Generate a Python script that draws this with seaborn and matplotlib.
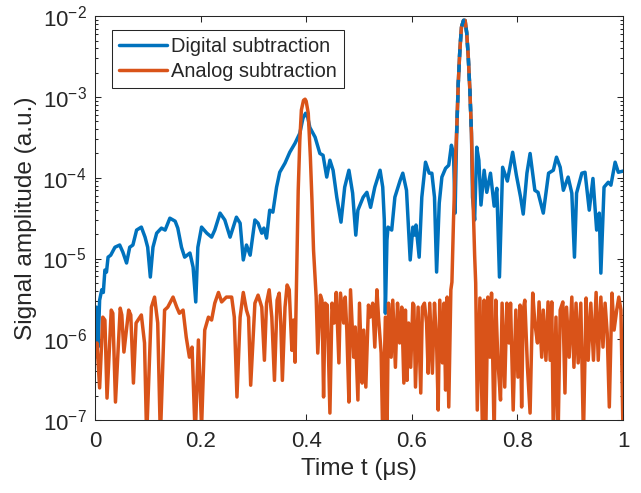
import numpy as np
import pandas as pd
import matplotlib
matplotlib.use("Agg")
import matplotlib.pyplot as plt
import seaborn as sns
from matplotlib.ticker import LogLocator, NullLocator, FixedLocator, FixedFormatter

# Values (time in us, amplitude in a.u.)
time_digital = [
    0.000, 0.003, 0.006, 0.009, 0.013, 0.016, 0.019, 0.022, 0.025, 0.030,
    0.038, 0.047, 0.053, 0.060, 0.066, 0.072, 0.079, 0.088, 0.095, 0.100,
    0.105, 0.110, 0.117, 0.126, 0.133, 0.142, 0.152, 0.157, 0.164, 0.170,
    0.180, 0.186, 0.191, 0.195, 0.202, 0.212, 0.221, 0.227, 0.237, 0.246,
    0.256, 0.268, 0.275, 0.281, 0.287, 0.294, 0.303, 0.309, 0.316, 0.320,
    0.325, 0.331, 0.337, 0.344, 0.350, 0.360, 0.369, 0.379, 0.388, 0.394,
    0.399, 0.403, 0.407, 0.417, 0.426, 0.432, 0.439, 0.445, 0.451, 0.458,
    0.466, 0.473, 0.481, 0.488, 0.494, 0.498, 0.508, 0.515, 0.522, 0.530,
    0.540, 0.545, 0.548, 0.550, 0.553, 0.555, 0.562, 0.568, 0.578, 0.583,
    0.590, 0.597, 0.602, 0.605, 0.608, 0.614, 0.619, 0.626, 0.633, 0.638,
    0.643, 0.647, 0.652, 0.657, 0.664, 0.670, 0.675, 0.679, 0.682, 0.685,
    0.688, 0.691, 0.694, 0.698, 0.701, 0.704, 0.707, 0.710, 0.713, 0.715,
    0.719, 0.723, 0.727, 0.731, 0.737, 0.742, 0.749, 0.756, 0.761, 0.766,
    0.772, 0.781, 0.791, 0.798, 0.806, 0.811, 0.818, 0.824, 0.833, 0.839,
    0.849, 0.859, 0.868, 0.874, 0.881, 0.887, 0.896, 0.903, 0.908, 0.912,
    0.922, 0.928, 0.936, 0.943, 0.950, 0.955, 0.958, 0.964, 0.972, 0.977,
    0.985, 0.991, 1.000,
]
digital = [
    7.3e-7, 2.5e-6, 8.0e-7, 3.05e-6, 4.1e-6, 3.8e-6, 7.2e-6, 6.8e-6, 1.04e-5, 1.1e-5,
    1.38e-5, 1.47e-5, 1.2e-5, 8.8e-6, 1.38e-5, 1.47e-5, 2.25e-5, 2.45e-5, 1.84e-5, 1.38e-5,
    5.9e-6, 1.38e-5, 2.06e-5, 2.38e-5, 2.25e-5, 3.16e-5, 2.9e-5, 2.38e-5, 1.38e-5, 1.04e-5,
    1.17e-5, 7.8e-6, 2.9e-6, 1.38e-5, 2.45e-5, 2.06e-5, 1.84e-5, 2.25e-5, 3.65e-5, 3.0e-5,
    1.84e-5, 3.25e-5, 2.74e-5, 9.6e-6, 1.47e-5, 1.1e-5, 3.0e-5, 2.74e-5, 2.06e-5, 2.38e-5,
    1.79e-5, 3.97e-5, 3.75e-5, 7.65e-5, 1.17e-4, 1.52e-4, 2.07e-4, 2.68e-4, 3.56e-4, 5.47e-4,
    6.3e-4, 5.6e-4, 4.2e-4, 3.18e-4, 2.0e-4, 1.9e-4, 1.02e-4, 1.65e-4, 1.24e-4, 5.75e-5,
    2.82e-5, 7.65e-5, 1.24e-4, 6.45e-5, 1.95e-5, 3.97e-5, 5.75e-5, 6.6e-5, 4.3e-5, 7.65e-5,
    1.24e-4, 7.65e-5, 3.0e-5, 2.1e-6, 1.69e-5, 2.45e-5, 2.25e-5, 5.75e-5, 9.3e-5, 1.14e-4,
    7.0e-5, 9.6e-6, 2.45e-5, 1.95e-5, 2.6e-5, 1.04e-5, 5.75e-5, 1.56e-4, 1.14e-4, 1.14e-4,
    5.75e-5, 6.8e-6, 4.85e-5, 1.02e-4, 1.31e-4, 1.43e-4, 2.53e-4, 2.0e-4, 3.65e-5, 3.56e-4,
    1.48e-3, 3.8e-3, 7.3e-3, 8.9e-3, 8.9e-3, 6.2e-3, 3.1e-3, 1.21e-3, 3.56e-4, 5.75e-5,
    3.0e-5, 2.39e-4, 1.65e-4, 4.6e-5, 1.24e-4, 6.6e-5, 1.14e-4, 4.45e-5, 7.4e-5, 5.9e-6,
    1.35e-4, 9.1e-5, 2.07e-4, 1.08e-4, 5.75e-5, 3.55e-5, 1.14e-4, 2.0e-4, 7.0e-5, 6.6e-5,
    3.65e-5, 1.14e-4, 1.24e-4, 1.8e-4, 1.35e-4, 7.0e-5, 1.02e-4, 6.45e-5, 1.04e-5, 6.45e-5,
    1.14e-4, 1.17e-4, 3.97e-5, 9.8e-5, 2.25e-5, 3.65e-5, 6.6e-6, 7.65e-5, 8.8e-5, 8.1e-5,
    1.56e-4, 1.17e-4, 1.21e-4,
]

time_analog = [
    0.000, 0.004, 0.009, 0.015, 0.019, 0.023, 0.031, 0.034, 0.039, 0.048,
    0.051, 0.055, 0.064, 0.068, 0.073, 0.078, 0.088, 0.094, 0.098, 0.107,
    0.113, 0.119, 0.124, 0.132, 0.138, 0.148, 0.155, 0.160, 0.167, 0.173,
    0.179, 0.184, 0.190, 0.196, 0.202, 0.208, 0.215, 0.221, 0.227, 0.234,
    0.240, 0.249, 0.259, 0.264, 0.269, 0.275, 0.281, 0.287, 0.291, 0.295,
    0.303, 0.309, 0.316, 0.321, 0.325, 0.330, 0.335, 0.340, 0.345, 0.349,
    0.352, 0.355, 0.360, 0.364, 0.368, 0.373, 0.376, 0.379, 0.382, 0.385,
    0.388, 0.391, 0.395, 0.398, 0.400, 0.404, 0.408, 0.411, 0.414, 0.419,
    0.422, 0.427, 0.430, 0.433, 0.436, 0.440, 0.445, 0.449, 0.453, 0.457,
    0.462, 0.465, 0.471, 0.474, 0.477, 0.481, 0.484, 0.487, 0.490, 0.493,
    0.498, 0.501, 0.506, 0.509, 0.513, 0.518, 0.521, 0.526, 0.530, 0.534,
    0.537, 0.542, 0.545, 0.550, 0.553, 0.556, 0.561, 0.564, 0.569, 0.573,
    0.577, 0.581, 0.585, 0.588, 0.591, 0.594, 0.598, 0.602, 0.604, 0.607,
    0.612, 0.617, 0.620, 0.624, 0.628, 0.631, 0.634, 0.639, 0.643, 0.647,
    0.650, 0.653, 0.658, 0.661, 0.664, 0.667, 0.670, 0.674, 0.676, 0.679,
    0.682, 0.685, 0.688, 0.691, 0.694, 0.698, 0.701, 0.704, 0.707, 0.710,
    0.713, 0.716, 0.719, 0.721, 0.724, 0.729, 0.734, 0.737, 0.740, 0.744,
    0.748, 0.751, 0.756, 0.759, 0.763, 0.768, 0.771, 0.776, 0.780, 0.784,
    0.787, 0.792, 0.797, 0.801, 0.805, 0.808, 0.811, 0.814, 0.819, 0.824,
    0.829, 0.833, 0.838, 0.841, 0.846, 0.849, 0.854, 0.858, 0.862, 0.865,
    0.868, 0.873, 0.877, 0.881, 0.886, 0.890, 0.893, 0.898, 0.903, 0.907,
    0.911, 0.915, 0.920, 0.925, 0.930, 0.934, 0.939, 0.944, 0.949, 0.953,
    0.958, 0.962, 0.966, 0.970, 0.974, 0.979, 0.983, 0.988, 0.992, 0.996,
    1.000,
]
analog = [
    6.0e-7, 9.0e-7, 2.5e-7, 1.88e-6, 1.73e-6, 1.87e-7, 2.3e-6, 2.1e-6, 1.67e-7, 2.43e-6,
    2.0e-6, 6.95e-7, 2.3e-6, 2.0e-6, 2.87e-7, 1.59e-6, 2.0e-6, 9.0e-7, 6e-8, 2.5e-6,
    3.33e-6, 1.59e-6, 6e-8, 2.3e-6, 2.5e-6, 3.33e-6, 2.5e-6, 2.1e-6, 2.3e-6, 1.06e-6,
    6.0e-7, 8.0e-7, 6e-8, 9.8e-7, 8e-8, 1.3e-6, 1.88e-6, 1.73e-6, 2.8e-6, 3.8e-6,
    2.9e-6, 3.33e-6, 3.33e-6, 1.88e-6, 1.93e-7, 1.88e-6, 3.8e-6, 2.3e-6, 1.88e-6, 2.7e-7,
    2.8e-6, 3.52e-6, 2.5e-6, 5.5e-7, 2.8e-6, 4.1e-6, 1.88e-6, 3.1e-7, 3.05e-6, 3.73e-6,
    1.59e-6, 3.1e-7, 2.5e-6, 4.7e-6, 4.1e-6, 7.3e-7, 1.73e-6, 5.2e-7, 5.9e-6, 7.0e-5,
    2.9e-4, 6.9e-4, 9.1e-4, 9.4e-4, 8.9e-4, 6.3e-4, 1.8e-4, 5.3e-5, 1.27e-5, 3.33e-6,
    6.75e-7, 3.52e-6, 3.05e-6, 1.93e-7, 2.8e-6, 2.65e-6, 1.22e-7, 2.8e-6, 1.59e-6, 3.8e-6,
    5.1e-7, 3.73e-6, 1.59e-6, 3.33e-6, 1.3e-6, 1.67e-7, 4.1e-6, 1.59e-6, 6.0e-7, 1.42e-6,
    1.77e-7, 2.8e-6, 2.87e-7, 1.3e-6, 2.56e-7, 2.65e-6, 1.88e-6, 2.8e-6, 8.0e-7, 4.1e-6,
    1.88e-6, 6.75e-7, 6e-8, 1.88e-6, 6e-8, 2.8e-6, 6.0e-7, 3.05e-6, 4.5e-7, 2.8e-6,
    9.0e-7, 2.5e-6, 2.87e-7, 2.3e-6, 3.1e-7, 1.59e-6, 4.5e-7, 2.8e-6, 2.65e-6, 2.56e-7,
    2.5e-6, 2.16e-7, 2.5e-6, 2.8e-6, 1.59e-6, 3.8e-7, 2.8e-6, 3.8e-7, 2.8e-6, 9.0e-7,
    1.33e-7, 3.05e-6, 5.1e-7, 2.8e-6, 2.35e-7, 3.33e-6, 1.45e-7, 4.1e-6, 5.1e-6, 3.0e-5,
    1.24e-4, 3.9e-4, 1.48e-3, 3.8e-3, 7.3e-3, 8.9e-3, 8.9e-3, 6.2e-3, 3.1e-3, 1.21e-3,
    3.56e-4, 5.3e-5, 1.1e-5, 4.97e-6, 1.33e-7, 3.24e-6, 6e-8, 3.05e-6, 6e-8, 3.33e-6,
    6.0e-7, 3.73e-6, 6e-8, 3.05e-6, 5.5e-7, 1.77e-7, 2.8e-6, 2.56e-7, 2.8e-6, 9.0e-7,
    2.8e-6, 1.33e-7, 2.3e-6, 3.4e-7, 2.65e-6, 1.45e-7, 2.3e-6, 3.05e-6, 4.5e-7, 1.22e-7,
    3.73e-6, 1.59e-6, 9.0e-7, 2.9e-6, 6.0e-7, 2.3e-6, 5.5e-7, 2.9e-6, 5.5e-7, 2.9e-6,
    6e-8, 1.88e-6, 6e-8, 2.3e-6, 2.9e-6, 2.16e-7, 2.5e-6, 6.0e-7, 3.33e-6, 4.5e-7,
    2.8e-6, 5.1e-7, 2.8e-6, 6e-8, 3.24e-6, 5.5e-7, 2.8e-6, 5.5e-7, 3.8e-6, 5.5e-7,
    3.33e-6, 8.0e-7, 2.8e-6, 1.19e-6, 1.45e-7, 3.73e-6, 1.3e-6, 2.3e-6, 3.33e-6, 2.3e-6,
    6e-8,
]

series_names = ["Digital subtraction", "Analog subtraction"]
colors = ["#0072BD", "#D95319"]
x_ticks = [0, 0.2, 0.4, 0.6, 0.8, 1]
x_tick_labels = ["0", "0.2", "0.4", "0.6", "0.8", "1"]

df = pd.concat([
    pd.DataFrame({"t": time_digital, "amp": digital, "series": series_names[0]}),
    pd.DataFrame({"t": time_analog, "amp": analog, "series": series_names[1]}),
], ignore_index=True)

sns.set_style("ticks")
plt.rcParams['font.family'] = ['Liberation Sans', 'DejaVu Sans']
plt.rcParams['mathtext.fontset'] = 'custom'
plt.rcParams['mathtext.rm'] = 'Liberation Sans'
plt.rcParams['mathtext.it'] = 'Liberation Sans:italic'
plt.rcParams['text.color'] = '#262626'
plt.rcParams['axes.labelcolor'] = '#262626'

fig = plt.figure(figsize=(6.41, 4.93), dpi=100)
ax = fig.add_axes([0.148, 0.148, 0.824, 0.819])

lw = 2.5
sns.lineplot(data=df, x="t", y="amp", hue="series", hue_order=series_names,
             palette=colors, estimator=None, sort=False, linewidth=lw, ax=ax)

# MATLAB draws the coinciding 0.7 us peak with blue and orange alternating
peak = df[(df["series"] == series_names[0]) & (df["t"] >= 0.684) & (df["t"] <= 0.714)]
ax.plot(peak["t"], peak["amp"], color=colors[0], lw=lw, dashes=(2.2, 2.2))

ax.set_yscale("log")
ax.set_xlim(0, 1)
ax.set_ylim(1e-7, 1e-2)
ax.xaxis.set_major_locator(FixedLocator(x_ticks))
ax.xaxis.set_major_formatter(FixedFormatter(x_tick_labels))
ax.xaxis.set_minor_locator(NullLocator())
ax.yaxis.set_major_locator(LogLocator(base=10, numticks=10))
ax.yaxis.set_minor_locator(LogLocator(base=10, subs=np.arange(2, 10), numticks=20))

for side in ["top", "right", "bottom", "left"]:
    ax.spines[side].set_visible(True)
    ax.spines[side].set_color("#262626")
    ax.spines[side].set_linewidth(0.75)

ax.tick_params(which="both", direction="in", top=True, right=True,
               color="#262626", labelcolor="#262626", width=0.75)
ax.tick_params(which="major", length=4.3, labelsize=16)
ax.tick_params(which="minor", length=2.3)
ax.tick_params(axis="x", which="major", pad=8)
ax.tick_params(axis="y", which="major", pad=6)

ax.set_xlabel("Time t (μs)", fontsize=17.6, labelpad=4)
ax.set_ylabel("Signal amplitude (a.u.)", fontsize=17.6, labelpad=4)

handles, labels = ax.get_legend_handles_labels()
leg = ax.legend(handles[:2], labels[:2], loc="upper left", bbox_to_anchor=(0.032, 0.965),
                borderaxespad=0, fontsize=14.4, fancybox=False, framealpha=1,
                edgecolor="#262626", handlelength=2.4, handletextpad=0.2,
                borderpad=0.35, labelspacing=0.3)
leg.get_frame().set_linewidth(0.75)
for line in leg.get_lines():
    line.set_linewidth(lw)

fig.savefig("out.png", dpi=100)
